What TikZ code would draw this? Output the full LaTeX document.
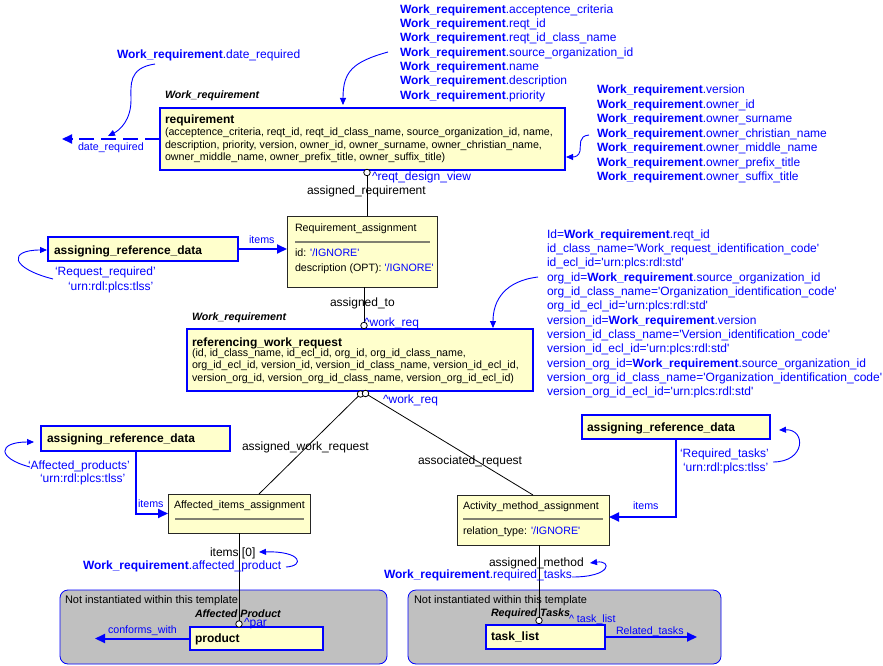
\documentclass[tikz,border=0pt]{standalone}
\usepackage{fontspec}
\setmainfont{Liberation Sans}[Ligatures=TeXOff]
\usetikzlibrary{arrows.meta}
\definecolor{boxyellow}{RGB}{255,255,204}
\definecolor{graybg}{RGB}{192,192,192}
\definecolor{sepgray}{RGB}{128,128,112}
\definecolor{wblue}{RGB}{0,0,255}
\newcommand\szL{\fontsize{12}{14.5}\selectfont}
\newcommand\szS{\fontsize{10.67}{12.4}\selectfont}
\newcommand\szM{\fontsize{11}{13}\selectfont}
\begin{document}
\catcode`\_=12
\newcommand\WRq{\textbf{Work_requirement}}
\begin{tikzpicture}[x=1pt,y=-1pt,
 every node/.style={inner sep=0pt,outer sep=0pt},
 classbox/.style={draw=wblue,line width=1.6pt,fill=boxyellow},
 asgbox/.style={draw=black!85,line width=1pt,fill=boxyellow},
 graybox/.style={draw=wblue,line width=0.8pt,fill=graybg,rounded corners=8pt},
 btxt/.style={anchor=base west,text=wblue,font=\szL},
 bstxt/.style={anchor=base west,text=wblue,font=\szS},
 ktxt/.style={anchor=base west,text=black,font=\szL},
 kstxt/.style={anchor=base west,text=black,font=\szS},
 kmtxt/.style={anchor=base west,text=black,font=\szM},
 headtxt/.style={anchor=base west,text=black,font=\szL\bfseries},
 titletxt/.style={anchor=base west,text=black,font=\szS\bfseries\itshape},
 conn/.style={draw=black,line width=0.8pt},
 role/.style={circle,draw=black,fill=white,line width=0.8pt,minimum size=6.5pt},
 bigarrow/.style={draw=wblue,line width=2pt,-{Triangle[length=10pt,width=9pt]}},
 thinarrow/.style={draw=wblue,line width=0.9pt,-{Triangle[length=7pt,width=6pt]}},
 sepline/.style={draw=sepgray,line width=2pt}]

\fill[white] (0,0) rectangle (883,666);
\useasboundingbox (0,0) rectangle (883,666);

% grey "not instantiated" areas
\node[graybox,minimum width=327pt,minimum height=74pt] (gray1) at (223.5,627) {};
\node[graybox,minimum width=313pt,minimum height=74pt] (gray2) at (564.5,627) {};

% boxes
\node[classbox,minimum width=405pt,minimum height=62pt] (req) at (362.5,139) {};
\node[asgbox,minimum width=150pt,minimum height=71pt] (ra) at (362,251.5) {};
\node[classbox,minimum width=190pt,minimum height=24pt] (ard1) at (143,249) {};
\node[classbox,minimum width=346pt,minimum height=62pt] (rwr) at (360,360) {};
\node[classbox,minimum width=189pt,minimum height=25pt] (ard2) at (135.5,438.5) {};
\node[classbox,minimum width=188pt,minimum height=24pt] (ard3) at (676,427) {};
\node[asgbox,minimum width=142pt,minimum height=39pt] (aia) at (239,513.5) {};
\node[asgbox,minimum width=152pt,minimum height=50pt] (ama) at (533,520) {};
\node[classbox,minimum width=133pt,minimum height=23pt] (prod) at (256.5,638.5) {};
\node[classbox,minimum width=119pt,minimum height=24pt] (tl) at (545.5,637) {};

% separators in assignment boxes
\draw[sepline] (295,242) -- (430,242);
\draw[sepline] (175,519) -- (304,519);
\draw[sepline] (463,519) -- (603,519);

% role circles
\node[role] (c1) at (367,172.5) {};
\node[role] (c2) at (364,325.5) {};
\node[role] (c3) at (360.5,394) {};
\node[role] (c4) at (365.5,393.5) {};
\node[role] (c5) at (239,624) {};
\node[role] (c6) at (539,620.5) {};

% black connectors
\draw[conn] (c1) -- (c1 |- ra.north);
\draw[conn] (c2 |- ra.south) -- (c2);
\draw[conn] (c3) -- ([xshift=20pt]aia.north);
\draw[conn] (c4) -- (ama.north);
\draw[conn] (aia.south) -- (c5);
\draw[conn] (c6 |- ama.south) -- (c6);

% blue thick arrows
\coordinate (drT) at (62,139);
\coordinate (cwT) at (95,638.5);
\coordinate (rtT) at (697,637);
\draw[bigarrow,dash pattern=on 15pt off 7pt] (req.west) -- (drT);
\draw[bigarrow] (ard1.east) -- (ra.west |- ard1.east);
\draw[bigarrow] (ard2.south) |- (aia.west);
\draw[bigarrow] (ard3.south) |- ([yshift=3pt]ama.east);
\draw[bigarrow] (prod.west) -- (cwT);
\draw[bigarrow] (tl.east) -- (rtT);

% thin blue curved arrows
\coordinate (k1s) at (155,64);   \coordinate (k1e) at (108,136);
\draw[thinarrow] (k1s) .. controls (128,68) and (131,85) .. (131,100) .. controls (131,120) and (120,130) .. (k1e);
\coordinate (k2s) at (388,52);   \coordinate (k2e) at (343,105);
\draw[thinarrow] (k2s) .. controls (352,62) and (343,72) .. (k2e);
\coordinate (k3s) at (589,135);  \coordinate (k3e) at (566,157);
\draw[thinarrow] (k3s) .. controls (578,136) and (581,145) .. (580,151) .. controls (579,156) and (575,157) .. (k3e);
\coordinate (k4s) at (53,279);   \coordinate (k4e) at (47,250);
\draw[thinarrow] (k4s) .. controls (10,268) and (8,250) .. (k4e);
\coordinate (k5s) at (30,467);   \coordinate (k5e) at (34,442);
\draw[thinarrow] (k5s) .. controls (-4,458) and (-2,442) .. (k5e);
\coordinate (k6s) at (773,462);  \coordinate (k6e) at (779,430);
\draw[thinarrow] (k6s) .. controls (806,462) and (806,429) .. (k6e);
\coordinate (k7s) at (538,277);  \coordinate (k7e) at (493,328);
\draw[thinarrow] (k7s) .. controls (505,281) and (493,300) .. (k7e);
\coordinate (k8s) at (286,567);  \coordinate (k8e) at (259,552);
\draw[thinarrow] (k8s) .. controls (305,566) and (302,551) .. (k8e);
\coordinate (k9s) at (572,577);  \coordinate (k9e) at (590,563);
\draw[thinarrow] (k9s) .. controls (612,577) and (612,560) .. (k9e);

% ---- texts ----
\node[btxt] (tdr) at (117,59) {\WRq.date_required};
\node[bstxt] (ldr) at (78,150) {date_required};
\node[titletxt] (t1) at (165,98.5) {Work_requirement};
\node[headtxt] (reqh) at (165,123.5) {requirement};
\foreach \t [count=\i from 0] in {{(acceptence_criteria, reqt_id, reqt_id_class_name, source_organization_id, name,}, {description, priority, version, owner_id, owner_surname, owner_christian_name,}, {owner_middle_name, owner_prefix_title, owner_suffix_title)}}
  \node[kstxt] (reqa\i) at (165,{135.8+12.3*\i}) {\t};

\foreach \t [count=\i from 0] in {acceptence_criteria, reqt_id, reqt_id_class_name, source_organization_id, name, description, priority}
  \node[btxt] (tb\i) at (400,{13.3+14.3*\i}) {\WRq.\t};
\foreach \t [count=\i from 0] in {version, owner_id, owner_surname, owner_christian_name, owner_middle_name, owner_prefix_title, owner_suffix_title}
  \node[btxt] (rb\i) at (597,{94+14.45*\i}) {\WRq.\t};

\node[btxt] (lrd) at (372,180) {\textasciicircum reqt_design_view};
\node[ktxt] (lar) at (307,194) {assigned_requirement};

\node[kstxt] (ra1) at (295,231.5) {Requirement_assignment};
\node[kstxt] (ra2) at (295,256.5) {id: \textcolor{wblue}{'/IGNORE'}};
\node[kstxt] (ra3) at (295,271.5) {description (OPT): \textcolor{wblue}{'/IGNORE'}};

\node[bstxt] (li1) at (249,243) {items};
\node[headtxt] (ard1t) at (54,254) {assigning_reference_data};
\node[btxt] (q1a) at (55,275.7) {‘Request_required’};
\node[btxt] (q1b) at (68,290.7) {‘urn:rdl:plcs:tlss’};

\node[ktxt] (lat) at (330,306) {assigned_to};
\node[titletxt] (t2) at (192,320) {Work_requirement};
\node[btxt] (lwr1) at (364,326) {\textasciicircum work_req};
\node[headtxt] (rwrh) at (192,346) {referencing_work_request};
\foreach \t [count=\i from 0] in {{(id, id_class_name, id_ecl_id, org_id, org_id_class_name,}, {org_id_ecl_id, version_id, version_id_class_name, version_id_ecl_id,}, {version_org_id, version_org_id_class_name, version_org_id_ecl_id)}}
  \node[kstxt] (rwra\i) at (192,{356.5+12.4*\i}) {\t};
\node[btxt] (lwr2) at (383,403) {\textasciicircum work_req};

\foreach \t [count=\i from 0] in {{Id=\WRq.reqt_id}, {id_class_name='Work_request_identification_code'}, {id_ecl_id='urn:plcs:rdl:std'}, {org_id=\WRq.source_organization_id}, {org_id_class_name='Organization_identification_code'}, {org_id_ecl_id='urn:plcs:rdl:std'}, {version_id=\WRq.version}, {version_id_class_name='Version_identification_code'}, {version_id_ecl_id='urn:plcs:rdl:std'}, {version_org_id=\WRq.source_organization_id}, {version_org_id_class_name='Organization_identification_code'}, {version_org_id_ecl_id='urn:plcs:rdl:std'}}
  \node[btxt] (ib\i) at (547,{238+14.36*\i}) {\t};

\node[ktxt] (lawr) at (242,450) {assigned_work_request};
\node[ktxt] (lasr) at (418,464) {associated_request};

\node[headtxt] (ard2t) at (47,442) {assigning_reference_data};
\node[btxt] (q2a) at (28,469) {‘Affected_products’};
\node[btxt] (q2b) at (40,482) {‘urn:rdl:plcs:tlss’};
\node[bstxt] (li2) at (138,507) {items};
\node[kstxt] (aiat) at (174,508.5) {Affected_items_assignment};

\node[headtxt] (ard3t) at (587,431) {assigning_reference_data};
\node[btxt] (q3a) at (680,457) {‘Required_tasks’};
\node[btxt] (q3b) at (683,471) {‘urn:rdl:plcs:tlss’};
\node[bstxt] (li3) at (633,509) {items};
\node[kstxt] (amat) at (463,509.5) {Activity_method_assignment};
\node[kstxt] (amar) at (463,534.5) {relation_type: \textcolor{wblue}{'/IGNORE'}};

\node[ktxt] (li0) at (210,556) {items [0]};
\node[btxt] (lap) at (83,569) {\WRq.affected_product};
\node[ktxt] (lam) at (489,566) {assigned_method};
\node[btxt] (lrt) at (384,578) {\WRq.required_tasks};

\node[kmtxt] (ni1) at (65,603.5) {Not instantiated within this template};
\node[titletxt] (tap) at (195,617.5) {Affected Product};
\node[btxt] (lpar) at (244,626) {\textasciicircum par};
\node[bstxt] (lcw) at (108,633) {conforms_with};
\node[headtxt] (prodt) at (195,642) {product};

\node[kmtxt] (ni2) at (414,603.5) {Not instantiated within this template};
\node[titletxt] (trt) at (491,616) {Required Tasks};
\node[bstxt] (ltl) at (569,622) {\textasciicircum\ task_list};
\node[headtxt] (tlt) at (491,640.5) {task_list};
\node[bstxt] (lrel) at (616,634) {Related_tasks};
\end{tikzpicture}
\end{document}
